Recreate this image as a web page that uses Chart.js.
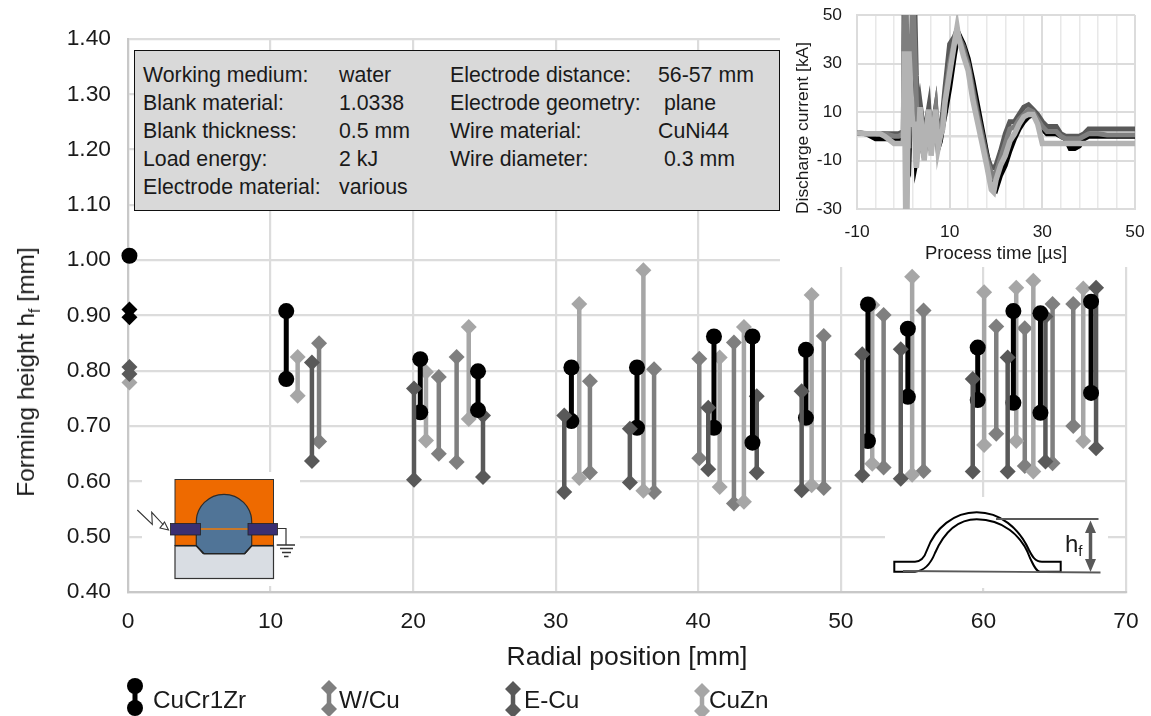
<!DOCTYPE html>
<html><head><meta charset="utf-8">
<script src="https://cdn.jsdelivr.net/npm/chart.js@4"></script>
<style>
html,body{margin:0;padding:0;background:#fff;width:1151px;height:716px;overflow:hidden;font-family:"Liberation Sans",Arial,sans-serif;color:#1a1a1a}
canvas{position:absolute;display:block}
#main{left:0;top:0}
#insetBox{position:absolute;left:780px;top:0;width:371px;height:267px;background:#fff}
#inset{left:0;top:0}
#info{position:absolute;left:134px;top:50px;width:646px;height:161px;background:#d9d9d9;border:1.5px solid #111;box-sizing:border-box;font-size:21.3px}
#info span{position:absolute;white-space:pre;line-height:24px}
#ytitle{position:absolute;left:26px;top:372px;transform:translate(-50%,-50%) rotate(-90deg);white-space:nowrap;font-size:24.5px}
#ytitle sub{font-size:16px;line-height:0}
#ytitle2{position:absolute;left:802px;top:128px;transform:translate(-50%,-50%) rotate(-90deg);white-space:nowrap;font-size:17.4px;color:#1a1a1a}
#over{position:absolute;left:0;top:0}
.leg{font-size:24.3px;fill:#1a1a1a}
</style></head><body>
<canvas id="main" width="1151" height="716"></canvas>
<div id="insetBox"><canvas id="inset" width="371" height="267"></canvas></div>
<div id="info"></div>
<div id="ytitle">Forming height h<sub>f</sub> [mm]</div>
<div id="ytitle2">Discharge current [kA]</div>
<svg id="over" width="1151" height="716" font-family="Liberation Sans, Arial, sans-serif">
  <rect x="142" y="472" width="158" height="114" fill="#fff"/>
  <rect x="885" y="497" width="223" height="91" fill="#fff"/>
  <rect x="175" y="479.5" width="98.5" height="66" fill="#ee6a00" stroke="#333" stroke-width="1"/>
  <rect x="175" y="545.5" width="98.5" height="33" fill="#d9dde3" stroke="#333" stroke-width="1.2"/>
  <path d="M196.3 545.7V522A27.7 27.7 0 0 1 251.7 522V545.7L245 553.5H203Z" fill="#507497" stroke="#2c2c2c" stroke-width="1.2"/>
  <path d="M175 545.7H196.3L204 553.7H244.5L251.7 545.7H273.5" fill="none" stroke="#222" stroke-width="1.6"/>
  <line x1="200" y1="529" x2="248" y2="529" stroke="#c8782a" stroke-width="2.2"/>
  <rect x="170.5" y="523.5" width="30" height="11.5" fill="#3a2f72" stroke="#222" stroke-width=".8"/>
  <rect x="248" y="523.5" width="29.5" height="11.5" fill="#3a2f72" stroke="#222" stroke-width=".8"/>
  <path d="M277.5 528.5H286V545" fill="none" stroke="#333" stroke-width="1.2"/>
  <path d="M276.7 545H295M280 548.5H293M282 552.5H291M284 556.5H288.5" fill="none" stroke="#333" stroke-width="1.4"/>
  <path d="M137.3 510L152.3 524.3L151.7 512.3L163.5 525M160 528L168.5 530L164.5 522Z" fill="#fff" stroke="#333" stroke-width="1.1"/>

  <path d="M894.3 561.7H915C922 561.7 925 556 927 550C935 528 954 512.3 976.7 512.3C1000 512.3 1019 528 1029 550C1032 556 1035 561.7 1042 561.7H1060.7V571.7H1040C1036 571.7 1033 564 1030 558C1022 535 1002 519.3 976.7 519.3C955 519.3 943 535 935 553C931 563 925 571 915 571.7H894.3Z" fill="#fff" stroke="#000" stroke-width="2"/>
  <line x1="996" y1="519" x2="1098.5" y2="519" stroke="#595959" stroke-width="1.8"/>
  <line x1="903" y1="571" x2="1100.5" y2="572.5" stroke="#595959" stroke-width="1.8"/>
  <path d="M1090.5 531V561" stroke="#595959" stroke-width="3.5"/>
  <path d="M1090.5 520.5L1085 533H1096ZM1090.5 572L1085 559H1096Z" fill="#595959"/>
  <text x="1065" y="552" font-size="24" fill="#1a1a1a">h<tspan font-size="15" dy="4">f</tspan></text>

  <g>
    <line x1="135" y1="686" x2="135" y2="708" stroke="#000" stroke-width="5"/><circle cx="135" cy="686" r="8"/><circle cx="135" cy="708" r="8"/>
    <text class="leg" x="153" y="708">CuCr1Zr</text>
    <line x1="329" y1="688" x2="329" y2="709" stroke="#7f7f7f" stroke-width="4.5"/><path d="M329 680l8 8l-8 8l-8-8ZM329 701l8 8l-8 8l-8-8Z" fill="#7f7f7f"/>
    <text class="leg" x="339" y="708">W/Cu</text>
    <line x1="513" y1="689" x2="513" y2="710" stroke="#595959" stroke-width="4.5"/><path d="M513 681l8 8l-8 8l-8-8ZM513 702l8 8l-8 8l-8-8Z" fill="#595959"/>
    <text class="leg" x="524" y="708">E-Cu</text>
    <line x1="702" y1="691" x2="702" y2="711" stroke="#a6a6a6" stroke-width="4.5"/><path d="M702 683l8 8l-8 8l-8-8ZM702 703l8 8l-8 8l-8-8Z" fill="#a6a6a6"/>
    <text class="leg" x="709" y="708">CuZn</text>
  </g>
</svg>
<script>
// --- main chart data: forming height range per radial position ---
const radialTicks = [0,10,20,30,40,50,60,70];
const heightTicks = [0.4,0.5,0.6,0.7,0.8,0.9,1.0,1.1,1.2,1.3,1.4];

const cuCrX  = [11.1,20.5,24.55,31.1,35.7,41.1,43.8,47.55,51.9,54.7,59.6,62.1,64.0,67.55];
const cuCrHi = [0.908,0.821,0.799,0.806,0.806,0.862,0.862,0.838,0.920,0.876,0.842,0.908,0.904,0.925];
const cuCrLo = [0.785,0.725,0.729,0.709,0.697,0.697,0.670,0.715,0.673,0.753,0.747,0.742,0.724,0.760];

const wCuX  = [13.4,21.8,23.05,32.4,36.9,40.07,42.5,48.8,53.0,55.8,60.9,62.9,64.85,66.3];
const wCuHi = [0.850,0.789,0.825,0.781,0.803,0.822,0.851,0.863,0.901,0.909,0.880,0.877,0.921,0.921];
const wCuLo = [0.672,0.650,0.635,0.616,0.581,0.642,0.560,0.588,0.625,0.619,0.686,0.628,0.633,0.700];

const eCuX  = [12.9,20.06,24.9,30.6,35.2,40.7,44.1,47.25,51.5,54.2,59.25,61.7,64.35,67.9];
const eCuHi = [0.815,0.768,0.719,0.719,0.695,0.733,0.754,0.763,0.830,0.839,0.785,0.824,0.898,0.950];
const eCuLo = [0.637,0.603,0.608,0.581,0.598,0.622,0.616,0.584,0.611,0.605,0.618,0.618,0.636,0.660];

const cuZnX  = [11.9,20.9,23.9,31.65,36.15,41.5,43.2,47.95,52.2,55.0,60.05,62.3,63.5,67.0];
const cuZnHi = [0.825,0.798,0.879,0.921,0.982,0.824,0.879,0.937,0.919,0.970,0.942,0.950,0.963,0.949];
const cuZnLo = [0.755,0.674,0.713,0.606,0.583,0.590,0.563,0.593,0.632,0.612,0.666,0.673,0.618,0.673];

const startX = 0.1;
const startCuCrCircle = [1.008];
const startCuCrDiamond = [0.911,0.897];
const startECu = [0.807,0.794];
const startCuZn = [0.779];

// --- inset data: discharge current over process time ---
const timeTicks = [-10,-6,-2,2,6,10,14,18,22,26,30,34,38,42,46,50];
const timeLabels = [-10,10,30,50];
const currentTicks = [-30,-10,0,10,30,50];
const currentLabels = [-30,-10,10,30,50];
const time = [-10,-8,-6,-5,-4,-2,-1,0,0.2,0.5,0.8,1.2,1.6,2,2.4,2.8,3.2,3.6,4,4.5,5,5.5,6,6.5,7,7.5,8,8.5,9,10,11,11.6,12,13,14,15,16,17,18,19,19.5,20,21,22,23,24,25,26,27,28,29,30,31,32,33,34,35,36,37,38,39,40,42,44,46,48,50];
const currentCuCr = [1.5,1,-1,-1,-1,-1,-1,-1,20,45,-10,-12,15,30,20,-10,-6,9,2,-9,2,8,-6,2,8,-5,-2,4,9,20,33,40,42,38,32,23,13,3,-7,-16,-21,-22,-16,-12,-6,-1,3,6,8,9,7,3,1,1,1,0,-1,-5,-5,-4,-1,0,0,0,0,0,0];
const currentWCu = [1.5,1,1,1,1,0,0,1,40,70,30,-5,25,60,40,15,-5,12,5,-7,4,11,-4,4,11,-3,2,7,15,30,39,43,41,35,29,18,8,-1,-10,-15,-17,-15,-9,-3,3,4,7,9,11,10,7,4,2,2,2,0,-1,-1,-1,-1,0,1,1,0.5,0.5,0.5,0.5];
const currentECu = [1.5,1,1,1,1,1,1,2,70,80,70,80,80,80,60,25,8,14,8,-3,6,12,-2,6,12,-1,3,10,20,38,41,44,41,37,30,20,10,1,-8,-13,-13,-12,-6,1,6,6,9,12,13,11,9,6,4,4,4,1,0,0,0,0,1,3,3,3,3,3,3];
const currentCuZn = [1.5,1,1,1,0,-3,-3,-3,35,-30,-30,35,20,5,5,-13,-5,12,3,-10,3,11,-8,3,11,-5,0,3,14,26,38,45,40,33,27,15,6,-3,-12,-22,-23,-18,-12,-8,-2,1,5,8,9,9,5,-3,-3,-3,-3,-3,-3,-3,-3,-3,-3,-3,-3,-3,-3,-3,-3];

// --- info box text ---
const infoCols = [8,204,315,523];
const infoLeft = [["Working medium:","water"],["Blank material:","1.0338"],["Blank thickness:","0.5 mm"],["Load energy:","2 kJ"],["Electrode material:","various"]];
const infoRight = [["Electrode distance:","56-57 mm"],["Electrode geometry:"," plane"],["Wire material:","CuNi44"],["Wire diameter:"," 0.3 mm"]];
const info = document.getElementById('info');
function addInfo(rows,c1,c2){rows.forEach((r,i)=>{[c1,c2].forEach((c,j)=>{const s=document.createElement('span');s.textContent=r[j];s.style.left=c+'px';s.style.top=(11.5+i*28)+'px';info.appendChild(s);});});}
addInfo(infoLeft,infoCols[0],infoCols[1]);
addInfo(infoRight,infoCols[2],infoCols[3]);

const cBlack='#000000', cW='#7f7f7f', cE='#595959', cZ='#a6a6a6';
function bars(xs,hi,lo,color,style,w){
  return xs.map((x,i)=>({x,
    type:'line',showLine:true,clip:false,
    data:[{x,y:hi[i]},{x,y:lo[i]}],
    borderColor:color,borderWidth:w,backgroundColor:color,
    pointBackgroundColor:color,pointBorderColor:color,pointBorderWidth:0,
    pointStyle:style,pointRadius:8,pointHoverRadius:8,tension:0}));
}
function dots(ys,color,style,r){
  return {type:'line',showLine:false,clip:false,data:ys.map(y=>({x:startX,y})),backgroundColor:color,borderColor:color,pointBackgroundColor:color,pointBorderWidth:0,pointStyle:style,pointRadius:r};
}
// Chart.js paints the last dataset first, so earlier entries end up on top
const front = bars(cuCrX,cuCrHi,cuCrLo,cBlack,'circle',5).concat(bars(eCuX,eCuHi,eCuLo,cE,'rectRot',4.5)).sort((a,b)=>a.x-b.x);
const datasets = [].concat(
  front,
  bars(cuZnX,cuZnHi,cuZnLo,cZ,'rectRot',4.5),
  bars(wCuX,wCuHi,wCuLo,cW,'rectRot',4.5),
  dots(startCuCrCircle,cBlack,'circle',8),
  dots(startCuCrDiamond,cBlack,'rectRot',8),
  dots(startECu,cE,'rectRot',8),
  dots(startCuZn,cZ,'rectRot',8)
);
const txt='#1a1a1a', font='"Liberation Sans", Arial, sans-serif';
new Chart(document.getElementById('main'),{
  type:'line',
  data:{datasets},
  options:{
    responsive:false,animation:false,
    layout:{padding:{left:48,top:39,right:25,bottom:42}},
    plugins:{legend:{display:false},tooltip:{enabled:false}},
    scales:{
      x:{type:'linear',min:0,max:70,
        afterBuildTicks:s=>{s.ticks=radialTicks.map(value=>({value}));},
        afterFit:s=>{s.height=82;},
        grid:{color:'#dcdcdc',lineWidth:2.2,drawTicks:true,tickLength:16,tickColor:'transparent'},
        border:{color:'#c8c8c8',width:2.2},
        ticks:{color:txt,font:{family:font,size:22.8},padding:0,maxRotation:0,autoSkip:false},
        title:{display:true,text:'Radial position [mm]',color:txt,font:{family:font,size:26.6},padding:{top:0,bottom:0}}
      },
      y:{type:'linear',min:0.4,max:1.4,
        afterBuildTicks:s=>{s.ticks=heightTicks.map(value=>({value}));},
        afterFit:s=>{s.width=80;},
        grid:{color:'#dcdcdc',lineWidth:2.2,drawTicks:true,tickLength:17,tickColor:'transparent'},
        border:{color:'#c8c8c8',width:2.2},
        ticks:{color:txt,font:{family:font,size:22.8},padding:0,autoSkip:false,callback:v=>Number(v).toFixed(2)}
      }
    }
  }
});

const insetSeries=[[currentCuZn,'#b3b3b3',5.5],[currentWCu,'#7f7f7f',5],[currentECu,'#595959',5],[currentCuCr,'#000000',5]];
new Chart(document.getElementById('inset'),{
  type:'line',
  data:{datasets:insetSeries.map(([v,c,w])=>({data:v.map((y,i)=>({x:time[i],y})),borderColor:c,borderWidth:w,pointRadius:0,tension:0}))},
  options:{
    responsive:false,animation:false,
    layout:{padding:{left:10,top:15,right:16,bottom:0}},
    plugins:{legend:{display:false},tooltip:{enabled:false}},
    scales:{
      x:{type:'linear',min:-10,max:50,
        afterBuildTicks:s=>{s.ticks=timeTicks.map(value=>({value}));},
        afterFit:s=>{s.height=58;},
        grid:{color:c=>timeLabels.includes(c.tick&&c.tick.value)?'#dcdcdc':'#e8e8e8',lineWidth:c=>timeLabels.includes(c.tick&&c.tick.value)?2:1.5,drawTicks:true,tickLength:13,tickColor:'transparent'},
        border:{color:'#dcdcdc',width:2},
        ticks:{color:txt,font:{family:font,size:17.4},padding:0,maxRotation:0,autoSkip:false,callback:v=>timeLabels.includes(v)?String(v):''},
        title:{display:true,text:'Process time [µs]',color:txt,font:{family:font,size:18.5},padding:{top:0,bottom:2}}
      },
      y:{type:'linear',min:-30,max:50,
        afterBuildTicks:s=>{s.ticks=currentTicks.map(value=>({value}));},
        afterFit:s=>{s.width=67;},
        grid:{color:'#dcdcdc',lineWidth:c=>(c.tick&&c.tick.value===0)?2.5:2,drawTicks:true,tickLength:15,tickColor:'transparent'},
        border:{color:'#dcdcdc',width:2},
        ticks:{color:txt,font:{family:font,size:17.4},padding:0,autoSkip:false,callback:v=>currentLabels.includes(v)?String(v):''},
        title:{display:false}
      }
    }
  }
});
</script>
</body></html>
